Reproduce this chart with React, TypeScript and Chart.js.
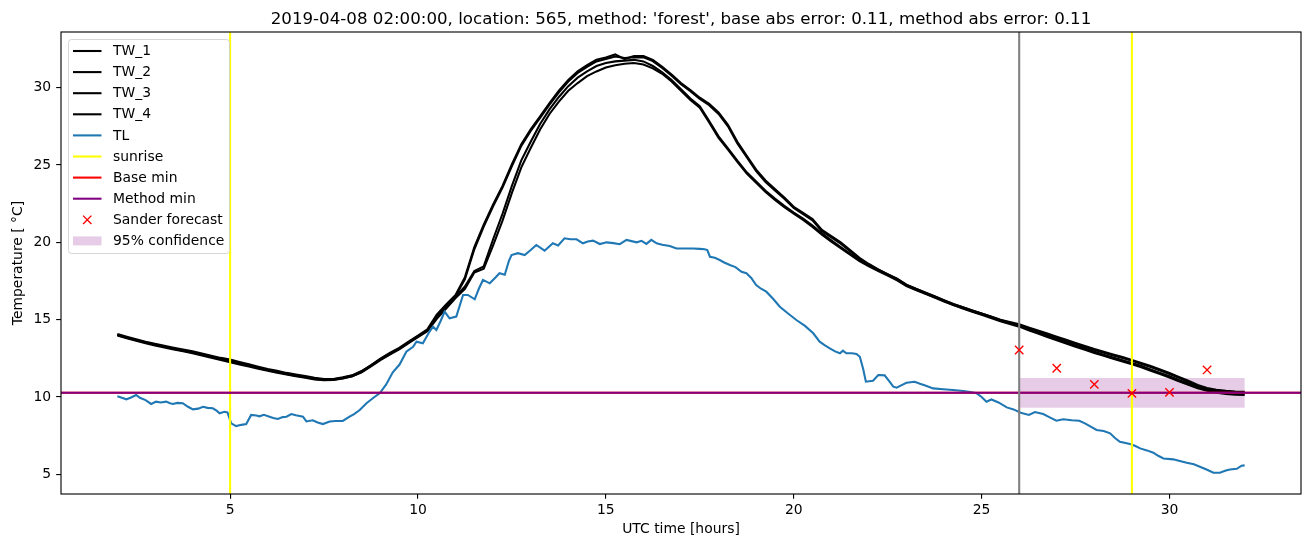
import React, { useEffect, useRef } from 'react';
import { Chart, registerables } from 'chart.js';

Chart.register(...registerables);

const TITLE = "2019-04-08 02:00:00, location: 565, method: 'forest', base abs error: 0.11, method abs error: 0.11";
const X_LABEL = 'UTC time [hours]';
const Y_LABEL = 'Temperature [ °C]';

const X_MIN = 0.5;
const X_MAX = 33.5;
const Y_MIN = 3.73;
const Y_MAX = 33.6;
const X_TICKS = [5, 10, 15, 20, 25, 30];
const Y_TICKS = [5, 10, 15, 20, 25, 30];

const TW_TIMES = [
  2.0, 2.25, 2.5, 2.75, 3.0, 3.25, 3.5, 3.75, 4.0, 4.25, 4.5, 4.75, 5.0, 5.25, 5.5, 5.75,
  6.0, 6.25, 6.5, 6.75, 7.0, 7.25, 7.5, 7.75, 8.0, 8.25, 8.5, 8.75, 9.0, 9.25, 9.5, 9.75,
  10.0, 10.25, 10.5, 10.75, 11.0, 11.25, 11.5, 11.75, 12.0, 12.25, 12.5, 12.75, 13.0, 13.25, 13.5, 13.75,
  14.0, 14.25, 14.5, 14.75, 15.0, 15.25, 15.5, 15.75, 16.0, 16.25, 16.5, 16.75, 17.0, 17.25, 17.5, 17.75,
  18.0, 18.25, 18.5, 18.75, 19.0, 19.25, 19.5, 19.75, 20.0, 20.25, 20.5, 20.75, 21.0, 21.25, 21.5, 21.75,
  22.0, 22.25, 22.5, 22.75, 23.0, 23.25, 23.5, 23.75, 24.0, 24.25, 24.5, 24.75, 25.0, 25.25, 25.5, 25.75,
  26.0, 26.25, 26.5, 26.75, 27.0, 27.25, 27.5, 27.75, 28.0, 28.25, 28.5, 28.75, 29.0, 29.25, 29.5, 29.75,
  30.0, 30.25, 30.5, 30.75, 31.0, 31.25, 31.5, 31.75, 32.0,
];

const TW_1 = [
  14.07, 13.90, 13.74, 13.58, 13.44, 13.32, 13.19, 13.07, 12.95, 12.82, 12.67, 12.53, 12.42, 12.27, 12.12, 11.96,
  11.81, 11.69, 11.56, 11.45, 11.35, 11.24, 11.16, 11.17, 11.27, 11.40, 11.68, 12.07, 12.48, 12.85, 13.18, 13.58,
  13.97, 14.38, 15.32, 15.98, 16.60, 17.75, 19.70, 21.15, 22.45, 23.65, 25.05, 26.35, 27.30, 28.15, 29.00, 29.80,
  30.50, 31.05, 31.45, 31.80, 31.95, 32.15, 31.85, 32.05, 32.05, 31.80, 31.35, 30.85, 30.30, 29.85, 29.35, 28.95,
  28.40, 27.60, 26.50, 25.60, 24.70, 24.00, 23.45, 22.90, 22.30, 21.90, 21.50, 20.80, 20.40, 20.00, 19.50, 19.00,
  18.60, 18.25, 17.95, 17.65, 17.25, 17.00, 16.75, 16.50, 16.25, 16.00, 15.80, 15.60, 15.40, 15.20, 15.00, 14.85,
  14.70, 14.50, 14.30, 14.10, 13.90, 13.70, 13.50, 13.30, 13.10, 12.92, 12.75, 12.58, 12.40, 12.20, 12.00, 11.78,
  11.55, 11.30, 11.05, 10.78, 10.58, 10.47, 10.40, 10.36, 10.34,
];

const TW_2 = [
  14.01, 13.84, 13.67, 13.52, 13.38, 13.25, 13.13, 13.00, 12.88, 12.75, 12.60, 12.46, 12.35, 12.20, 12.05, 11.89,
  11.74, 11.62, 11.49, 11.38, 11.28, 11.17, 11.10, 11.12, 11.22, 11.35, 11.62, 12.02, 12.43, 12.80, 13.12, 13.52,
  13.92, 14.32, 15.24, 15.90, 16.52, 17.62, 19.55, 21.02, 22.33, 23.55, 24.93, 26.24, 27.20, 28.05, 28.90, 29.70,
  30.40, 30.95, 31.35, 31.70, 31.86, 32.02, 31.92, 31.97, 31.96, 31.72, 31.27, 30.77, 30.22, 29.77, 29.27, 28.87,
  28.30, 27.50, 26.40, 25.50, 24.60, 23.90, 23.36, 22.82, 22.22, 21.82, 21.42, 20.72, 20.32, 19.92, 19.43, 18.94,
  18.55, 18.20, 17.90, 17.60, 17.20, 16.95, 16.70, 16.45, 16.20, 15.95, 15.75, 15.55, 15.35, 15.15, 14.95, 14.80,
  14.64, 14.44, 14.24, 14.04, 13.84, 13.64, 13.44, 13.24, 13.04, 12.86, 12.69, 12.52, 12.34, 12.14, 11.94, 11.72,
  11.49, 11.24, 10.99, 10.72, 10.52, 10.42, 10.36, 10.33, 10.31,
];

const TW_3 = [
  13.98, 13.80, 13.64, 13.48, 13.34, 13.21, 13.08, 12.96, 12.83, 12.69, 12.54, 12.39, 12.25, 12.11, 11.97, 11.83,
  11.70, 11.57, 11.45, 11.34, 11.24, 11.14, 11.08, 11.10, 11.20, 11.34, 11.60, 11.98, 12.38, 12.75, 13.08, 13.48,
  13.88, 14.25, 15.05, 15.72, 16.40, 17.00, 18.05, 18.30, 19.80, 21.40, 23.20, 24.85, 26.10, 27.30, 28.30, 29.10,
  29.80, 30.30, 30.75, 31.05, 31.30, 31.45, 31.55, 31.60, 31.50, 31.25, 30.90, 30.40, 29.80, 29.20, 28.70, 27.75,
  26.75, 26.00, 25.20, 24.45, 23.85, 23.25, 22.75, 22.28, 21.85, 21.45, 21.00, 20.50, 20.05, 19.62, 19.20, 18.78,
  18.45, 18.15, 17.85, 17.55, 17.18, 16.92, 16.68, 16.43, 16.18, 15.94, 15.73, 15.52, 15.32, 15.11, 14.90, 14.72,
  14.55, 14.32, 14.10, 13.88, 13.67, 13.46, 13.25, 13.05, 12.85, 12.66, 12.48, 12.30, 12.12, 11.92, 11.70, 11.48,
  11.26, 11.02, 10.80, 10.57, 10.40, 10.28, 10.20, 10.15, 10.13,
];

const TW_4 = [
  14.03, 13.85, 13.69, 13.53, 13.39, 13.26, 13.13, 13.01, 12.88, 12.74, 12.59, 12.44, 12.30, 12.16, 12.02, 11.88,
  11.75, 11.62, 11.50, 11.39, 11.29, 11.19, 11.13, 11.15, 11.25, 11.39, 11.65, 12.03, 12.43, 12.80, 13.13, 13.53,
  13.93, 14.30, 15.15, 15.80, 16.48, 17.15, 18.15, 18.45, 20.20, 21.85, 23.65, 25.30, 26.50, 27.65, 28.60, 29.40,
  30.10, 30.65, 31.05, 31.40, 31.60, 31.70, 31.75, 31.80, 31.70, 31.40, 31.00, 30.50, 29.90, 29.30, 28.80, 27.85,
  26.85, 26.08, 25.28, 24.53, 23.93, 23.33, 22.83, 22.36, 21.93, 21.53, 21.08, 20.58, 20.13, 19.70, 19.28, 18.86,
  18.53, 18.23, 17.93, 17.63, 17.26, 17.00, 16.76, 16.51, 16.26, 16.02, 15.81, 15.60, 15.40, 15.19, 14.98, 14.80,
  14.63, 14.40, 14.18, 13.96, 13.75, 13.54, 13.33, 13.13, 12.93, 12.74, 12.56, 12.38, 12.20, 12.00, 11.78, 11.56,
  11.34, 11.10, 10.88, 10.65, 10.48, 10.36, 10.28, 10.23, 10.21,
];

const TL_TIMES = [
  2.0, 2.12, 2.24, 2.35, 2.5, 2.6, 2.75, 2.9, 3.03, 3.15, 3.3, 3.4, 3.48, 3.6, 3.74, 3.88,
  4.01, 4.15, 4.28, 4.4, 4.54, 4.65, 4.72, 4.85, 4.93, 5.03, 5.16, 5.3, 5.43, 5.56, 5.7, 5.78,
  5.9, 6.05, 6.15, 6.27, 6.4, 6.5, 6.63, 6.75, 6.85, 6.94, 7.03, 7.2, 7.33, 7.47, 7.65, 7.8,
  8.0, 8.18, 8.3, 8.45, 8.63, 8.85, 8.98, 9.15, 9.33, 9.51, 9.69, 9.87, 9.96, 10.13, 10.3, 10.4,
  10.49, 10.6, 10.71, 10.84, 11.02, 11.2, 11.33, 11.51, 11.62, 11.73, 11.91, 12.05, 12.17, 12.31, 12.42, 12.49,
  12.66, 12.84, 13.0, 13.15, 13.37, 13.59, 13.73, 13.9, 14.05, 14.22, 14.39, 14.52, 14.66, 14.84, 15.02, 15.2,
  15.37, 15.55, 15.82, 15.95, 16.08, 16.21, 16.35, 16.5, 16.7, 16.88, 17.1, 17.32, 17.5, 17.63, 17.7, 17.77,
  17.9, 18.03, 18.15, 18.3, 18.45, 18.61, 18.74, 18.87, 19.0, 19.13, 19.27, 19.45, 19.63, 19.85, 20.07, 20.3,
  20.52, 20.69, 20.82, 20.96, 21.1, 21.23, 21.31, 21.4, 21.55, 21.67, 21.76, 21.85, 21.92, 22.11, 22.25, 22.42,
  22.55, 22.65, 22.74, 22.9, 23.0, 23.22, 23.36, 23.5, 23.71, 23.98, 24.24, 24.51, 24.7, 24.87, 25.0, 25.13,
  25.26, 25.45, 25.67, 25.85, 26.04, 26.26, 26.42, 26.64, 26.8, 26.99, 27.17, 27.4, 27.6, 27.75, 27.88, 28.06,
  28.25, 28.42, 28.55, 28.68, 28.95, 29.08, 29.22, 29.4, 29.57, 29.7, 29.84, 30.1, 30.3, 30.46, 30.65, 30.81,
  31.0, 31.17, 31.34, 31.5, 31.61, 31.79, 31.92, 32.0,
];

const TL = [
  10.05, 9.95, 9.85, 9.95, 10.13, 9.95, 9.8, 9.55, 9.7, 9.65, 9.7, 9.6, 9.55, 9.62, 9.6, 9.37,
  9.2, 9.25, 9.37, 9.3, 9.27, 9.1, 8.95, 9.05, 9.0, 8.3, 8.12, 8.2, 8.25, 8.84, 8.8, 8.75,
  8.85, 8.73, 8.65, 8.58, 8.7, 8.73, 8.9, 8.82, 8.77, 8.73, 8.42, 8.5, 8.35, 8.25, 8.42, 8.45,
  8.45, 8.73, 8.9, 9.16, 9.6, 10.02, 10.24, 10.8, 11.6, 12.1, 12.93, 13.25, 13.58, 13.47, 14.2, 14.55,
  14.33, 14.9, 15.52, 15.09, 15.2, 16.6, 16.6, 16.32, 17.0, 17.57, 17.35, 17.7, 18.0, 17.9, 18.8, 19.18,
  19.3, 19.18, 19.5, 19.83, 19.46, 19.94, 19.8, 20.26, 20.2, 20.2, 19.94, 20.05, 20.11, 19.89, 20.0, 19.95,
  19.88, 20.16, 20.0, 20.1, 19.9, 20.16, 19.94, 19.85, 19.77, 19.6, 19.6, 19.6, 19.58, 19.55, 19.5, 19.07,
  19.0, 18.86, 18.7, 18.54, 18.4, 18.1, 18.0, 17.7, 17.24, 17.0, 16.81, 16.35, 15.84, 15.4, 14.98, 14.6,
  14.12, 13.58, 13.35, 13.15, 12.95, 12.83, 13.0, 12.83, 12.83, 12.78, 12.6, 11.8, 10.99, 11.05, 11.42, 11.4,
  11.0, 10.67, 10.6, 10.8, 10.92, 10.99, 10.86, 10.75, 10.56, 10.5, 10.45, 10.39, 10.33, 10.24, 10.0, 9.7,
  9.84, 9.65, 9.33, 9.2, 8.98, 8.84, 9.03, 8.9, 8.7, 8.47, 8.56, 8.5, 8.47, 8.3, 8.12, 7.87,
  7.8, 7.65, 7.35, 7.11, 6.96, 6.85, 6.68, 6.55, 6.4, 6.2, 6.03, 5.97, 5.85, 5.75, 5.65, 5.49,
  5.3, 5.1, 5.1, 5.25, 5.32, 5.36, 5.56, 5.58,
];

const SUNRISE_TIMES = [5, 29];
const FORECAST_START = [26];
const BASE_MIN = 10.28;
const METHOD_MIN = 10.28;
const SANDER_TIMES = [26, 27, 28, 29, 30, 31];
const SANDER_VALUES = [13.04, 11.86, 10.82, 10.24, 10.3, 11.75];
const CONF_START = 26;
const CONF_END = 32;
const CONF_LOW = 9.31;
const CONF_HIGH = 11.23;

const LEGEND_LABELS = ['TW_1', 'TW_2', 'TW_3', 'TW_4', 'TL', 'sunrise', 'Base min', 'Method min', 'Sander forecast', '95% confidence'];
const LEGEND_KINDS = ['line', 'line', 'line', 'line', 'line', 'line', 'line', 'line', 'x', 'patch'];
const LEGEND_COLORS = ['#000000', '#000000', '#000000', '#000000', '#1f77b4', '#ffff00', '#ff0000', '#800080', '#ff0000', 'rgba(128,0,128,0.2)'];

const FONT = '"DejaVu Sans", sans-serif';
const LW = 2.08;

function pairs(xs: number[], ys: number[]) {
  return xs.map((x, i) => ({ x, y: ys[i] }));
}

const decorPlugin = {
  id: 'decor',
  beforeDatasetsDraw(chart: any) {
    const { ctx, scales } = chart;
    const x = scales.x;
    const y = scales.y;
    ctx.save();
    ctx.fillStyle = 'rgba(128,0,128,0.2)';
    const x0 = x.getPixelForValue(CONF_START);
    const x1 = x.getPixelForValue(CONF_END);
    const y0 = y.getPixelForValue(CONF_HIGH);
    const y1 = y.getPixelForValue(CONF_LOW);
    ctx.fillRect(x0, y0, x1 - x0, y1 - y0);
    ctx.restore();
  },
  afterDatasetsDraw(chart: any) {
    const { ctx, chartArea } = chart;
    ctx.save();
    ctx.strokeStyle = '#000';
    ctx.lineWidth = 1.11;
    ctx.strokeRect(chartArea.left, chartArea.top, chartArea.right - chartArea.left, chartArea.bottom - chartArea.top);
    ctx.restore();
  },
  afterDraw(chart: any) {
    const { ctx, chartArea } = chart;
    const cx = (chartArea.left + chartArea.right) / 2;
    ctx.save();
    ctx.fillStyle = '#000';
    ctx.font = `16.67px ${FONT}`;
    ctx.textAlign = 'center';
    ctx.textBaseline = 'alphabetic';
    ctx.fillText(TITLE, cx, 23.5);

    ctx.font = `13.9px ${FONT}`;
    ctx.textBaseline = 'middle';
    ctx.fillText(X_LABEL, cx, 529);

    ctx.save();
    ctx.translate(18, (chartArea.top + chartArea.bottom) / 2);
    ctx.rotate(-Math.PI / 2);
    ctx.fillText(Y_LABEL, 0, 0);
    ctx.restore();

    // legend
    const lx = 68.5, ly = 39.5, lw = 161, lh = 214;
    ctx.beginPath();
    ctx.roundRect(lx, ly, lw, lh, 3);
    ctx.fillStyle = 'rgba(255,255,255,0.8)';
    ctx.fill();
    ctx.strokeStyle = 'rgba(204,204,204,0.8)';
    ctx.lineWidth = 1;
    ctx.stroke();

    ctx.font = `13.9px ${FONT}`;
    ctx.textAlign = 'left';
    ctx.textBaseline = 'middle';
    LEGEND_LABELS.forEach((label, i) => {
      const ry = 51 + i * 21.1;
      const kind = LEGEND_KINDS[i];
      const color = LEGEND_COLORS[i];
      if (kind === 'line') {
        ctx.beginPath();
        ctx.strokeStyle = color;
        ctx.lineWidth = LW;
        ctx.moveTo(73, ry);
        ctx.lineTo(101.5, ry);
        ctx.stroke();
      } else if (kind === 'x') {
        ctx.beginPath();
        ctx.strokeStyle = color;
        ctx.lineWidth = 1.39;
        const c = 87.25, r = 4.17;
        ctx.moveTo(c - r, ry - r);
        ctx.lineTo(c + r, ry + r);
        ctx.moveTo(c - r, ry + r);
        ctx.lineTo(c + r, ry - r);
        ctx.stroke();
      } else {
        ctx.fillStyle = color;
        ctx.fillRect(73, ry - 4.5, 28.5, 9);
      }
      ctx.fillStyle = '#000';
      ctx.fillText(label, 113, ry + 0.5);
    });
    ctx.restore();
  },
};

export default function App() {
  const ref = useRef<HTMLCanvasElement | null>(null);

  useEffect(() => {
    if (!ref.current) return;
    Chart.defaults.font.family = FONT;
    const lineDs = (label: string, data: any[], color: string, order: number, width = LW) => ({
      label,
      data,
      borderColor: color,
      backgroundColor: color,
      borderWidth: width,
      pointRadius: 0,
      tension: 0,
      fill: false,
      order,
    });
    const datasets: any[] = [
      lineDs('TW_1', pairs(TW_TIMES, TW_1), '#000000', 20),
      lineDs('TW_2', pairs(TW_TIMES, TW_2), '#000000', 19),
      lineDs('TW_3', pairs(TW_TIMES, TW_3), '#000000', 18),
      lineDs('TW_4', pairs(TW_TIMES, TW_4), '#000000', 17),
      lineDs('TL', pairs(TL_TIMES, TL), '#1f77b4', 16),
      ...SUNRISE_TIMES.map((t) => lineDs('sunrise', [{ x: t, y: Y_MIN }, { x: t, y: Y_MAX }], '#ffff00', 15)),
      lineDs('Base min', [{ x: X_MIN, y: BASE_MIN }, { x: X_MAX, y: BASE_MIN }], '#ff0000', 14),
      lineDs('Method min', [{ x: X_MIN, y: METHOD_MIN }, { x: X_MAX, y: METHOD_MIN }], '#800080', 13),
      ...FORECAST_START.map((t) => lineDs('forecast', [{ x: t, y: Y_MIN }, { x: t, y: Y_MAX }], '#808080', 12)),
      {
        label: 'Sander forecast',
        data: pairs(SANDER_TIMES, SANDER_VALUES),
        showLine: false,
        pointStyle: 'crossRot',
        pointRadius: 5.9,
        pointBorderWidth: 1.39,
        pointBorderColor: '#ff0000',
        pointBackgroundColor: '#ff0000',
        borderColor: '#ff0000',
        order: 1,
      },
    ];

    const tickFont = { family: FONT, size: 13.9 };
    const chart = new Chart(ref.current, {
      type: 'line',
      data: { datasets },
      options: {
        animation: false,
        responsive: false,
        devicePixelRatio: 1,
        layout: { padding: { top: 32, right: 9, left: 0, bottom: 0 } },
        plugins: {
          legend: { display: false },
          tooltip: { enabled: false },
          title: { display: false },
        },
        scales: {
          x: {
            type: 'linear',
            min: X_MIN,
            max: X_MAX,
            afterFit: (s: any) => { s.height = 53; },
            afterBuildTicks: (s: any) => { s.ticks = X_TICKS.map((v) => ({ value: v })); },
            ticks: { font: tickFont, color: '#000', padding: 3, maxRotation: 0, autoSkip: false },
            grid: { display: true, drawOnChartArea: false, drawTicks: true, tickLength: 4.86, color: '#000', lineWidth: 1.11 },
            border: { display: false },
          },
          y: {
            type: 'linear',
            min: Y_MIN,
            max: Y_MAX,
            afterFit: (s: any) => { s.width = 61; },
            afterBuildTicks: (s: any) => { s.ticks = Y_TICKS.map((v) => ({ value: v })); },
            ticks: { font: tickFont, color: '#000', padding: 5, autoSkip: false },
            grid: { display: true, drawOnChartArea: false, drawTicks: true, tickLength: 4.86, color: '#000', lineWidth: 1.11 },
            border: { display: false },
          },
        },
      } as any,
      plugins: [decorPlugin],
    });
    return () => chart.destroy();
  }, []);

  return (
    <div style={{ position: 'fixed', left: 0, top: 0, width: 1310, height: 547, background: '#fff' }}>
      <canvas ref={ref} width={1310} height={547} style={{ display: 'block' }} />
    </div>
  );
}
